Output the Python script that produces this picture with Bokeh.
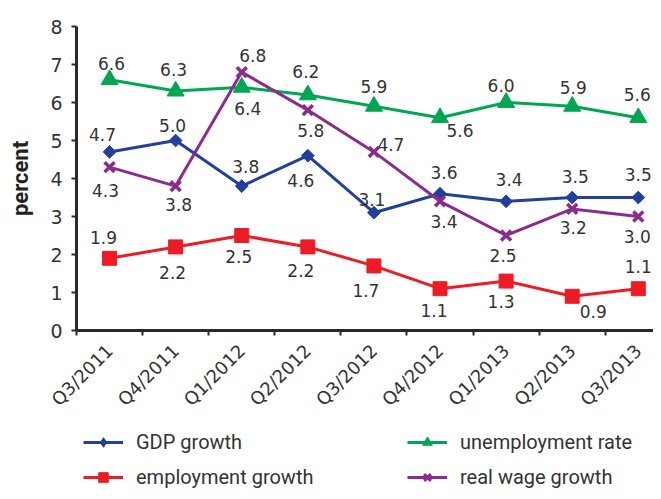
import numpy as np
from bokeh.plotting import figure
from bokeh.layouts import column
from bokeh.models import (Range1d, FixedTicker, CustomJSTickFormatter, Legend,
                          LegendItem, ColumnDataSource)
from bokeh.core.properties import value
from bokeh.embed import file_html
from bokeh.resources import INLINE

# ---- data ----
quarters = ["Q3/2011", "Q4/2011", "Q1/2012", "Q2/2012", "Q3/2012",
            "Q4/2012", "Q1/2013", "Q2/2013", "Q3/2013"]
gdp_growth = [4.7, 5.0, 3.8, 4.6, 3.1, 3.6, 3.4, 3.5, 3.5]
unemployment_rate = [6.6, 6.3, 6.4, 6.2, 5.9, 5.6, 6.0, 5.9, 5.6]
employment_growth = [1.9, 2.2, 2.5, 2.2, 1.7, 1.1, 1.3, 0.9, 1.1]
real_wage_growth = [4.3, 3.8, 6.8, 5.8, 4.7, 3.4, 2.5, 3.2, 3.0]
y_ticks = [0, 1, 2, 3, 4, 5, 6, 7, 8]

# ---- label placement (screen px offsets, style only) ----
gdp_off = [(-7, -17), (-3, -15), (4, -20), (-7, 25), (-2, -13), (4, -21), (3, -22), (3, -21), (0, -23)]
unemp_off = [(2, -16), (-2, -22), (6, 21), (-2, -23), (0, -20), (20, 13), (-5, -17), (1, -19), (-1, -23)]
emp_off = [(-6, -21), (-3, 26), (-3, 21), (-7, 24), (-8, 25), (-6, 22), (-5, 20), (21, 15), (0, -22)]
wage_off = [(-4, 23), (3, 18), (11, -17), (3, 20), (17, -7), (4, 20), (-3, 20), (1, 19), (-1, 20)]

TXT = "#333333"
AX = "#2a2a2a"
NUM_FONT = "DejaVu Sans"
LAB_FONT = "Roboto"

xs = list(range(len(quarters)))

p = figure(width=653, height=420,
           x_range=Range1d(-0.5, 8.23), y_range=Range1d(0, 8),
           output_backend="svg", toolbar_location=None,
           min_border_left=76, min_border_top=26, min_border_right=0,
           min_border_bottom=90)
p.outline_line_color = None
p.xgrid.visible = False
p.ygrid.visible = False
p.background_fill_color = "white"
p.border_fill_color = "white"

# x axis
xa = p.xaxis[0]
xa.ticker = FixedTicker(ticks=xs, minor_ticks=[i - 0.5 for i in range(len(quarters) + 1)])
xa.formatter = CustomJSTickFormatter(args=dict(labels=quarters),
                                     code="const i = Math.round(tick); return (labels[i] !== undefined) ? labels[i] : '';")
xa.major_label_orientation = np.pi / 4
xa.major_tick_line_color = None
xa.major_tick_out = 0
xa.major_tick_in = 0
xa.minor_tick_out = 5
xa.minor_tick_in = 0
xa.minor_tick_line_color = AX
xa.minor_tick_line_width = 2
xa.axis_line_color = AX
xa.axis_line_width = 3
xa.major_label_standoff = 12
xa.major_label_text_font = NUM_FONT
xa.major_label_text_font_size = "18px"
xa.major_label_text_color = TXT

# y axis
ya = p.yaxis[0]
ya.ticker = FixedTicker(ticks=y_ticks, minor_ticks=[])
ya.major_tick_out = 5
ya.major_tick_in = 0
ya.major_tick_line_color = AX
ya.major_tick_line_width = 2
ya.axis_line_color = AX
ya.axis_line_width = 3
ya.major_label_standoff = 9
ya.major_label_text_font = NUM_FONT
ya.major_label_text_font_size = "19px"
ya.major_label_text_color = TXT
ya.axis_label = "percent"
ya.axis_label_text_font = LAB_FONT
ya.axis_label_text_font_style = "bold"
ya.axis_label_text_font_size = "22px"
ya.axis_label_text_color = "#222222"
ya.axis_label_standoff = 14

# name, values, colour, plot marker, size, angle, legend marker, legend size, offsets
series = [
    ("GDP growth", gdp_growth, "#22409A", "square", 9, np.pi / 4, "diamond", 13, gdp_off),
    ("employment growth", employment_growth, "#ED1C24", "square", 14, 0, "square", 12, emp_off),
    ("unemployment rate", unemployment_rate, "#00A651", "triangle", 17, 0, "triangle", 15, unemp_off),
    ("real wage growth", real_wage_growth, "#8C2B8E", "x", 14, 0, "x", 12, wage_off),
]

# legend panel figure (same glyph styles; its renderers sit outside the view)
lp = figure(width=653, height=71, x_range=Range1d(0, 1), y_range=Range1d(0, 1),
            output_backend="svg", toolbar_location=None,
            x_axis_type=None, y_axis_type=None,
            min_border_left=0, min_border_right=0, min_border_top=0, min_border_bottom=0)
lp.outline_line_color = None
lp.xgrid.visible = False
lp.ygrid.visible = False

items = []
for name, vals, col, marker, size, ang, lmarker, lsize, offs in series:
    src = ColumnDataSource(dict(x=xs, y=vals))
    p.line("x", "y", source=src, line_color=col, line_width=3)
    if marker == "x":
        p.scatter("x", "y", source=src, marker=marker, size=size,
                  line_color=col, line_width=3.5)
    else:
        p.scatter("x", "y", source=src, marker=marker, size=size, angle=ang,
                  fill_color=col, line_color=col, line_width=1)
    hidden = ColumnDataSource(dict(x=[-10, -11], y=[-10, -11]))
    l1 = lp.line("x", "y", source=hidden, line_color=col, line_width=3)
    if lmarker == "x":
        l2 = lp.scatter("x", "y", source=hidden, marker=lmarker, size=lsize,
                        line_color=col, line_width=3)
    else:
        l2 = lp.scatter("x", "y", source=hidden, marker=lmarker, size=lsize,
                        fill_color=col, line_color=col, line_width=1)
    items.append(LegendItem(label=name, renderers=[l1, l2]))

for name, vals, col, marker, size, ang, lmarker, lsize, offs in series:
    lsrc = ColumnDataSource(dict(
        x=xs, y=vals, t=["%.1f" % v for v in vals],
        dx=[o[0] for o in offs], dy=[o[1] for o in offs]))
    p.text("x", "y", text="t", source=lsrc, x_offset="dx", y_offset="dy",
           text_align="center", text_baseline="middle",
           text_font=value(NUM_FONT), text_font_size="17px", text_color=TXT)

legend = Legend(items=items, location=(7, 2), orientation="vertical", ncols=2,
                glyph_width=40, glyph_height=24, label_height=24, label_width=260,
                label_standoff=13, spacing=11, padding=0, margin=0,
                border_line_color=None, background_fill_alpha=0,
                label_text_font=LAB_FONT,
                label_text_font_size="20px", label_text_color=TXT)
lp.add_layout(legend, "center")

layout = column(p, lp, spacing=0)
open("out.html", "w").write(file_html(layout, INLINE))
